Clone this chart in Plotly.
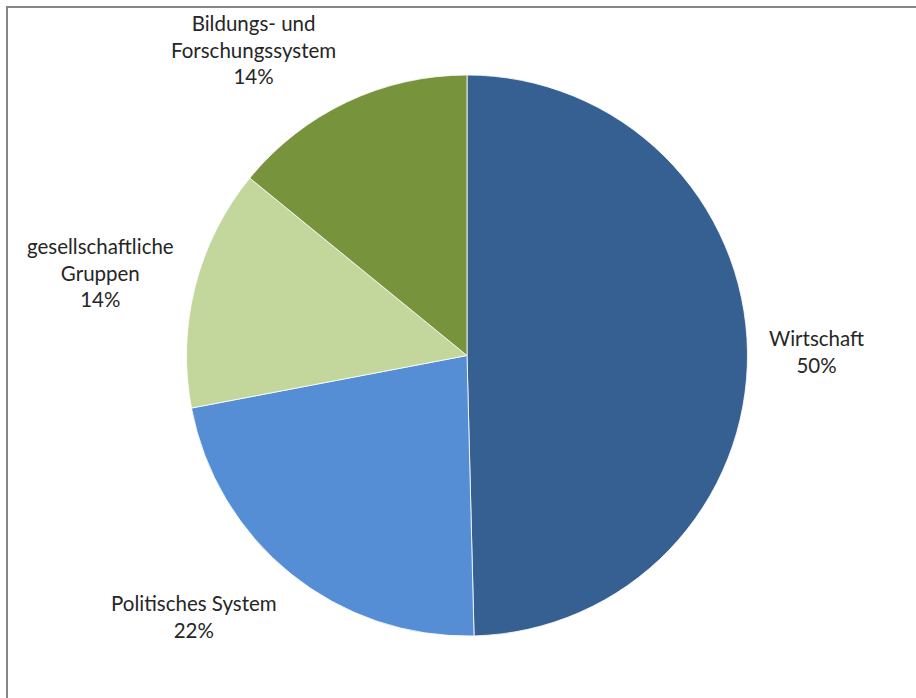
import math
import plotly.graph_objects as go

labels = ["Wirtschaft", "Politisches System", "gesellschaftliche<br>Gruppen", "Bildungs- und<br>Forschungssystem"]
values = [49.6, 22.4, 13.9, 14.1]
colors = ["#376092", "#558ED5", "#C3D69B", "#77933C"]

W, H = 916, 698
cx, cy, r = 467, 355.5, 280.5
label_factor = 1.07
label_yshift = [0, 0, 9, -6]  # small style nudges for label placement

fig = go.Figure(go.Pie(
    labels=labels,
    values=values,
    sort=False,
    direction="clockwise",
    rotation=0,
    marker=dict(colors=colors, line=dict(color="white", width=0.8)),
    textinfo="none",
    hoverinfo="label+percent",
    showlegend=False,
    domain=dict(x=[(cx - r) / W, (cx + r) / W], y=[1 - (cy + r) / H, 1 - (cy - r) / H]),
))

# outside labels placed along each slice's mid-angle (Excel-style)
total = sum(values)
annotations = []
cum = 0.0
for lab, v, ys in zip(labels, values, label_yshift):
    mid = 2 * math.pi * (cum + v / 2) / total  # clockwise from 12 o'clock
    cum += v
    sx, sy = math.sin(mid), math.cos(mid)
    px = cx + label_factor * r * sx
    py = cy - label_factor * r * sy
    xanchor = "left" if sx > 0.05 else ("right" if sx < -0.05 else "center")
    yanchor = "bottom" if sy > 0.5 else ("top" if sy < -0.5 else "middle")
    annotations.append(dict(
        x=px / W, y=1 - py / H, xref="paper", yref="paper",
        text=f"{lab}<br>{round(100 * v / total)}%",
        showarrow=False, xanchor=xanchor, yanchor=yanchor, align="center", yshift=ys,
        font=dict(family="Lato", size=20.5, color="#262626"),
    ))

fig.update_layout(
    width=W, height=H,
    margin=dict(l=0, r=0, t=0, b=0),
    paper_bgcolor="white",
    plot_bgcolor="white",
    annotations=annotations,
    shapes=[dict(type="rect", xref="paper", yref="paper",
                 x0=7 / W, x1=1.2, y0=-0.2, y1=1 - 7 / H,
                 line=dict(color="#868686", width=2), fillcolor="rgba(0,0,0,0)", layer="below")],
)

fig.write_html("out.html", config={"displayModeBar": False},
               post_script="document.body.style.margin='0';")
